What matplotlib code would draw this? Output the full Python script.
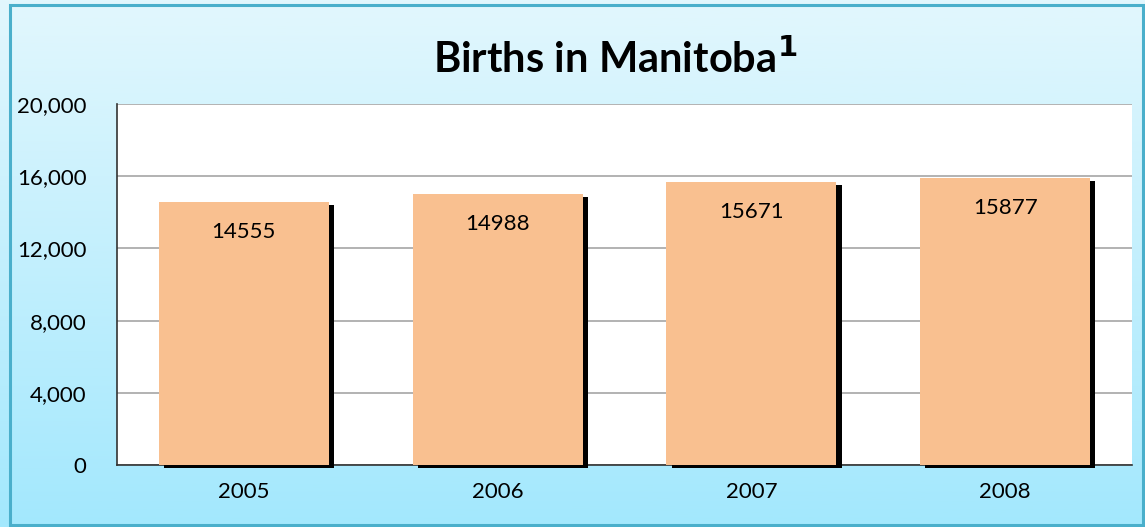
import numpy as np
import matplotlib
matplotlib.use("Agg")
import matplotlib.pyplot as plt
import matplotlib.patheffects as pe
from matplotlib.patches import Rectangle

# data
years = ["2005", "2006", "2007", "2008"]
births = [14555, 14988, 15671, 15877]
yticks = [0, 4000, 8000, 12000, 16000, 20000]

plt.rcParams['font.family'] = ['Lato', 'DejaVu Sans']

W, H = 1145, 527
fig = plt.figure(figsize=(W / 100, H / 100), dpi=100)

# background gradient (light cyan at top, stronger at bottom)
bg = fig.add_axes([0, 0, 1, 1], zorder=0)
grad = np.linspace(0, 1, 256).reshape(-1, 1)
top = np.array([0xE2, 0xF7, 0xFD]) / 255
bot = np.array([0xA3, 0xE8, 0xFD]) / 255
img = top + (bot - top) * grad[:, :, None]
bg.imshow(img, aspect='auto', extent=[0, 1, 0, 1], origin='upper')
bg.add_patch(Rectangle((10 / W, 2 / H), (W - 12) / W, (H - 7) / H,
                       fill=False, edgecolor='#4AAFCB', linewidth=2.2,
                       transform=bg.transAxes))
bg.set_xlim(0, 1)
bg.set_ylim(0, 1)
bg.axis('off')

ax = fig.add_axes([117 / W, (H - 465) / H, (1132 - 117) / W, (465 - 104) / H], zorder=1)
ax.set_facecolor('white')

x = np.arange(len(years))
bars = ax.bar(x, births, width=0.67, color='#F9C090', zorder=3)
for b in bars:
    b.set_clip_on(False)
    b.set_path_effects([pe.SimplePatchShadow(offset=(3.8, -2.0), shadow_rgbFace='black', alpha=1.0),
                        pe.Normal()])

for xi, v in zip(x, births):
    ax.text(xi, v - 1650, str(v), ha='center', va='center', fontsize=16, color='black', zorder=4)

ax.set_xlim(-0.5, len(years) - 0.5)
ax.set_ylim(0, 20000)
ax.set_yticks(yticks)
ax.set_yticklabels([f"{t:,}" for t in yticks])
ax.set_xticks(x)
ax.set_xticklabels(years)
ax.tick_params(axis='both', length=0, labelsize=16, colors='black')
ax.tick_params(axis='y', pad=22)
ax.tick_params(axis='x', pad=12)
ax.grid(axis='y', color='#A6A6A6', linewidth=1.2, zorder=0)
ax.set_axisbelow(True)
for s in ['top', 'right']:
    ax.spines[s].set_visible(False)
ax.spines['left'].set_color('#333333')
ax.spines['bottom'].set_color('#333333')
ax.spines['left'].set_linewidth(1.2)
ax.spines['bottom'].set_linewidth(1.2)

fig.text(0.537, (H - 59) / H, r"Births in Manitoba$^{\mathbf{1}}$", ha='center', va='center',
         fontsize=30, fontweight='bold', color='black')

fig.savefig("out.png", dpi=100)
